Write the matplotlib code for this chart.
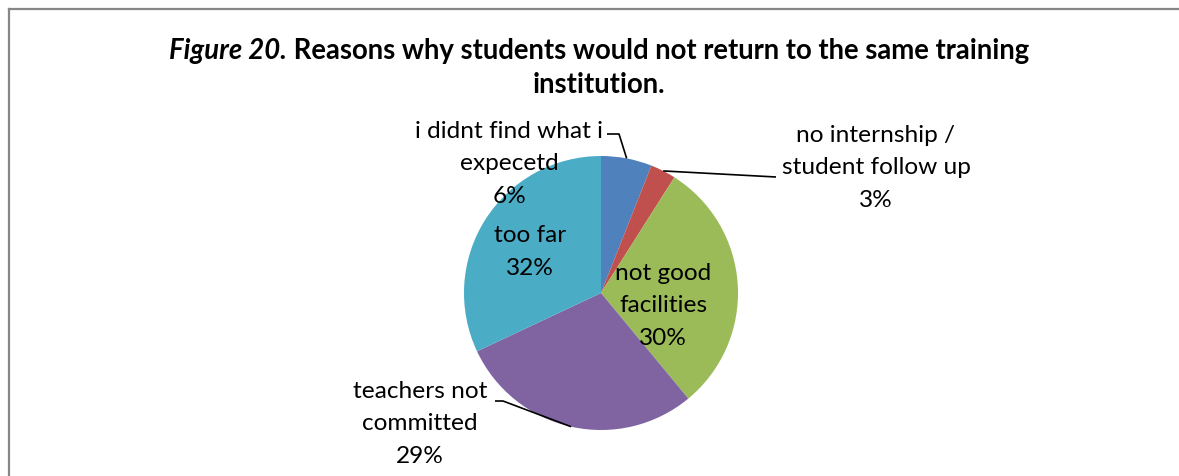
import numpy as np
import matplotlib
matplotlib.use("Agg")
import matplotlib.pyplot as plt
from matplotlib.lines import Line2D

plt.rcParams['font.family'] = ['Lato', 'DejaVu Sans']

reasons = ["i didnt find what i\nexpecetd", "no internship /\nstudent follow up",
           "not good\nfacilities", "teachers not\ncommitted", "too far"]
shares = [6, 3, 30, 29, 32]
colors = ["#4F81BD", "#C0504D", "#9BBB59", "#8064A2", "#4BACC6"]

W, H = 1179, 476
fig = plt.figure(figsize=(W / 100, H / 100), dpi=100)
ax = fig.add_axes([0, 0, 1, 1])

cx, cy, r = 601, H - 293, 137
wedges, _ = ax.pie(shares, colors=colors, startangle=90, counterclock=False,
                   center=(cx, cy), radius=r, frame=True,
                   wedgeprops=dict(linewidth=0))
ax.set_xlim(0, W)
ax.set_ylim(0, H)
ax.axis('off')

# label text anchors (pixel coords from top) and leader elbows
label_pos = [(509, 164), (876, 168), (663, 306), (420, 424), (530, 252)]
leaders = {
    0: [(607, 134), (619, 134)],
    1: [(776, 177)],
    3: [(495, 401), (503, 401)],
}

fs = 17.6
for i, (wedge, name, val) in enumerate(zip(wedges, reasons, shares)):
    lx, ly = label_pos[i]
    ax.text(lx, H - ly, f"{name}\n{val}%", ha='center', va='center',
            fontsize=fs, linespacing=1.65, color='black')
    if i in leaders:
        mid = np.deg2rad((wedge.theta1 + wedge.theta2) / 2)
        ax_pt = (cx + r * np.cos(mid), cy + r * np.sin(mid))
        pts = [(x, H - y) for x, y in leaders[i]] + [ax_pt]
        xs, ys = zip(*pts)
        ax.plot(xs, ys, color='black', lw=1.2, solid_capstyle='butt')

# two-style title line, centred as a whole
tfs = 19.8
fig.canvas.draw()
renderer = fig.canvas.get_renderer()
t1 = fig.text(0, 0, "Figure 20.", fontsize=tfs, fontweight='bold', fontstyle='italic')
t2 = fig.text(0, 0, " Reasons why students would not return to the same training",
              fontsize=tfs, fontweight='bold')
w1 = t1.get_window_extent(renderer).width
w2 = t2.get_window_extent(renderer).width
x0 = 599 - (w1 + w2) / 2
t1.set_position((x0 / W, 1 - 51 / H))
t2.set_position(((x0 + w1) / W, 1 - 51 / H))
t1.set_va('center')
t2.set_va('center')
fig.text(599 / W, 1 - 85 / H, "institution.", fontsize=tfs, fontweight='bold',
         ha='center', va='center')

# chart area border (top and left edges)
fig.add_artist(Line2D([8.5 / W, 8.5 / W], [0, 1 - 8.5 / H], transform=fig.transFigure,
                      color='#878787', lw=1.6))
fig.add_artist(Line2D([8.5 / W, 1], [1 - 8.5 / H, 1 - 8.5 / H], transform=fig.transFigure,
                      color='#878787', lw=1.6))

fig.savefig("out.png", dpi=100)
